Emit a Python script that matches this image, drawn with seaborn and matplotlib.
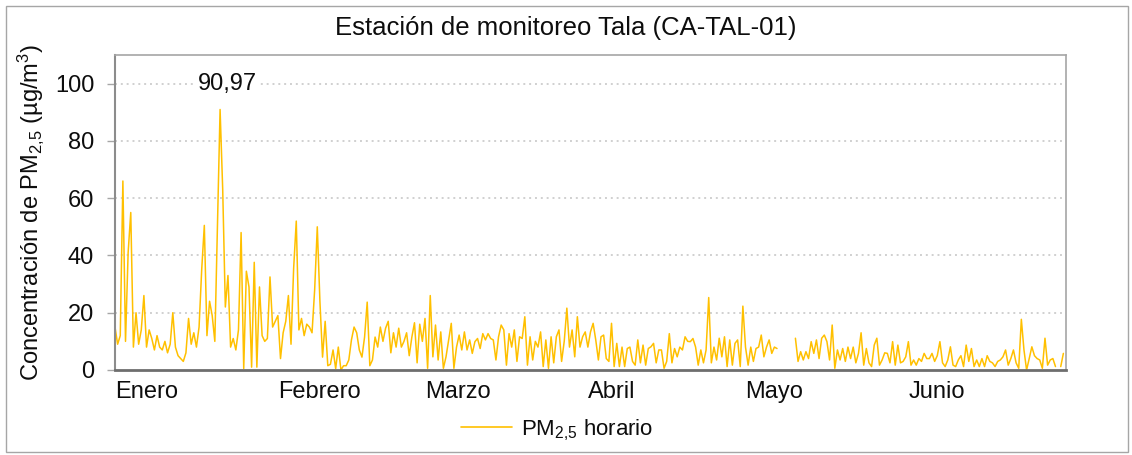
import numpy as np
import pandas as pd
import matplotlib
matplotlib.use('Agg')
import matplotlib.pyplot as plt
from matplotlib.lines import Line2D
from matplotlib.patches import Rectangle
import seaborn as sns

nan = np.nan

# ── Datos: PM2.5 (µg/m³), dos lecturas por día (00 h y 12 h) ──
enero = [
    15, 9, 12, 66, 10, 41, 55, 8, 20, 9,
    14, 26, 8, 14, 11, 7, 12, 8, 7, 10,
    6, 9, 20, 8, 5, 4, 3, 6, 18, 9,
    13, 8, 15, 35, 50.5, 12, 24, 19, 10, 50,
    90.97, 63, 22, 33, 8, 11, 7, 14, 48, 0.5,
    34.5, 29, 1, 37.6, 1, 29, 12, 10, 11, 32.5,
    15, 17,
]
febrero = [
    19, 4, 13, 17, 26, 9, 35.5, 52, 14, 18,
    12, 16, 15, 13, 28, 50, 24, 4.5, 17, 1.5,
    2, 7, 0.5, 8, 0, 1.5, 1.5, 3.5, 10.5, 15,
    13, 7, 4.5, 11.5, 23.7, 1.5, 3.5, 11.5, 8, 15,
    10, 14.6, 17, 6, 13, 8, 14.6, 8, 10, 13,
    5, 11.5, 16.5, 2.5, 16, 10,
]
marzo = [
    18, 0.6, 26, 4.6, 15.7, 3.5, 13.3, 0.6, 4.6, 10.5,
    16.3, 0.6, 8, 12.2, 7, 13.3, 7, 10.5, 5.8, 9.9,
    11, 7.5, 12.7, 10.5, 12.7, 11, 10.5, 3.5, 11.6, 15.7,
    14, 1.7, 12.7, 8, 14, 3, 11.6, 11, 18.6, 1.7,
    11.6, 3.5, 10, 8, 13.3, 1.2, 10.5, 0.6, 11.6, 2.5,
    11.6, 14, 3, 10, 21.6, 8, 14, 4.6, 18.6, 8,
    11.6, 13.3,
]
abril = [
    8, 13.3, 16.3, 10.5, 3.5, 11.6, 12.2, 4, 3, 16.3,
    1.2, 9.3, 1.2, 8, 1.2, 7.5, 8, 3, 1.7, 10.5,
    2.5, 8.7, 1.7, 7.5, 8.1, 9.3, 2.5, 7, 7, 0.6,
    3, 12.7, 2.5, 7.5, 4.6, 8, 7, 11.6, 10, 9.9,
    11, 8, 1.7, 7, 2.5, 7, 25.3, 2.5, 8, 3.5,
    11.1, 4.6, 11.6, 1.2, 10.5, 1.7, 9.3, 10.5, 1.2, 22.3,
]
mayo = [
    8, 1.7, 8, 3, 7.5, 8, 12.2, 4.6, 8, 10.5,
    5.8, 8, 7.5, nan, nan, nan, nan, nan, nan, 11.1,
    3, 6.4, 3.5, 6.4, 4, 9.9, 5.8, 10.5, 4, 11.1,
    12.2, 9.9, 3.5, 15.7, 0.6, 7, 3.5, 7.5, 3, 8,
    4, 8, 2.5, 5.8, 13, 1.7, 7.5, 2.5, 1.2, 8.7,
    11.1, 1.7, 3.5, 6, 5.8, 2.5, 9.9, 1.7, 8.7, 2.5,
    3, 4.6,
]
junio = [
    9.9, 1.7, 3.5, 1.7, 4, 3, 5.8, 4, 4, 5.8,
    3, 5, 9.9, 2.5, 1.2, 3.5, 8.1, 1.7, 1.2, 3.5,
    5, 1.2, 8.7, 3, 7.5, 1.2, 3.5, 1.2, 4, 1.2,
    5, 3, 2.5, 1.2, 3, 3.5, 4.6, 7, 1.7, 4,
    7, 2.5, 0.6, 17.7, 7, 0, 4, 8.1, 5, 4,
    3.5, 0.6, 11.1, 1.7, 3.5, 4, 1.2, nan, 1.2, 5.8,
]

meses = ['Enero', 'Febrero', 'Marzo', 'Abril', 'Mayo', 'Junio']
yticks = [0, 20, 40, 60, 80, 100]

ORO = '#FFC000'
TXT = '#0d0d0d'
W, H = 1132, 455

valores = enero + febrero + marzo + abril + mayo + junio
fechas = pd.date_range('2023-01-01', periods=len(valores), freq='12h')
df = pd.DataFrame({'fecha': fechas, 'pm25': valores})
df['tramo'] = df['pm25'].isna().cumsum()   # corta la línea donde faltan datos
df = df.dropna()

# ── Estilo ────────────────────────────────────────────────────────────────────
sns.set_theme(style='white')
plt.rcParams['font.family'] = ['Liberation Sans', 'DejaVu Sans']
plt.rcParams['mathtext.fontset'] = 'custom'
plt.rcParams['mathtext.rm'] = 'Liberation Sans'
plt.rcParams['mathtext.it'] = 'Liberation Sans:italic'

fig = plt.figure(figsize=(W / 100, H / 100), dpi=100)
fig.patches.append(Rectangle((6 / W, 3 / H), 1 - 10 / W, 1 - 9 / H,
                             transform=fig.transFigure, fill=False,
                             edgecolor='#a6a6a6', lw=1.0))
ax = fig.add_axes([115 / W, 1 - 370 / H, (1066 - 115) / W, (370 - 55) / H])

sns.lineplot(data=df, x='fecha', y='pm25', units='tramo', estimator=None,
             color=ORO, lw=1.1, ax=ax)

ax.set_xlim(pd.Timestamp('2023-01-01'), pd.Timestamp('2023-07-01'))
ax.set_ylim(0, 110)
ax.set_yticks(yticks)
ax.tick_params(axis='y', labelsize=17, labelcolor=TXT, length=6, width=1,
               color='#a6a6a6', pad=9, direction='out', left=True)
ax.set_xticks(pd.date_range('2023-01-01', periods=len(meses), freq='MS'))
ax.set_xticklabels(meses, ha='left')
ax.tick_params(axis='x', labelsize=17, labelcolor=TXT, length=0, pad=8)

for y in yticks[1:]:
    ax.axhline(y, color='#d0d0d0', lw=1.4, ls=(0, (1, 2)), zorder=0)

for side, col, lw in [('left', '#8c8c8c', 1.5), ('bottom', '#6e6e6e', 2.0),
                      ('top', '#a6a6a6', 1.2), ('right', '#a6a6a6', 1.2)]:
    ax.spines[side].set_visible(True)
    ax.spines[side].set_color(col)
    ax.spines[side].set_linewidth(lw)

ax.set_xlabel('')
ax.set_ylabel(r'Concentración de PM$_{\mathrm{2{,}5}}$ (µg/m$^{\mathrm{3}}$)',
              fontsize=17, color=TXT, labelpad=6)

# Máximo anotado
imax = df['pm25'].idxmax()
vmax = df.loc[imax, 'pm25']
ax.annotate(f'{vmax:.2f}'.replace('.', ','), xy=(df.loc[imax, 'fecha'], 100),
            xytext=(5, 0), textcoords='offset points', ha='center', va='center',
            fontsize=17, color=TXT,
            bbox=dict(facecolor='white', edgecolor='none', pad=1))

fig.text(0.5, 1 - 28 / H, 'Estación de monitoreo Tala (CA-TAL-01)',
         ha='center', va='center', fontsize=18.5, color=TXT)

handle = Line2D([], [], color=ORO, lw=1.2)
fig.legend([handle], [r'PM$_{\mathrm{2{,}5}}$ horario'], loc='center',
           bbox_to_anchor=(557 / W, 1 - 430 / H), frameon=False, fontsize=16,
           handlelength=2.3, handletextpad=0.4, labelcolor=TXT)

fig.savefig('out.png', dpi=100, facecolor='white')
